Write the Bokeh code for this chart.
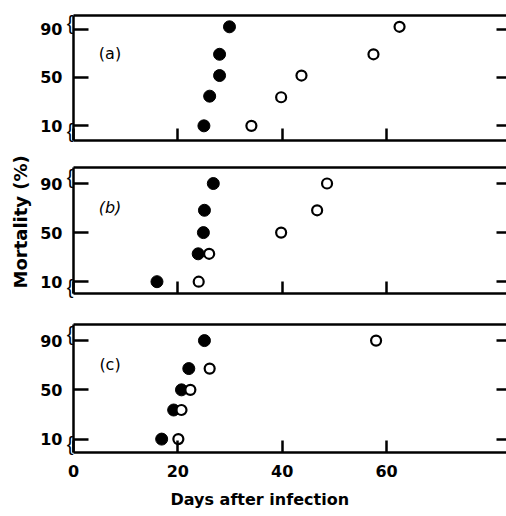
from statistics import NormalDist
from bokeh.plotting import figure
from bokeh.layouts import column
from bokeh.models import Range1d, LinearAxis, FixedTicker, Title
from bokeh.core.properties import value
from bokeh.embed import file_html
from bokeh.resources import INLINE

# ---- data (days after infection, % mortality) ----
a_filled_days = [25.0, 26.1, 28.0, 28.0, 29.9]
a_filled_mort = [10, 31, 52, 73, 91]
a_open_days = [34.1, 39.8, 43.7, 57.5, 62.5]
a_open_mort = [10, 30, 52, 73, 91]

b_filled_days = [16.0, 23.9, 24.9, 25.1, 26.8]
b_filled_mort = [10, 29, 50, 72, 90]
b_open_days = [24.0, 26.0, 39.8, 46.7, 48.6]
b_open_mort = [10, 29, 50, 72, 90]

c_filled_days = [16.9, 19.2, 20.7, 22.1, 25.1]
c_filled_mort = [10, 30, 50, 71, 90]
c_open_days = [20.1, 20.7, 22.4, 26.1, 58.0]
c_open_mort = [10, 30, 50, 71, 90]

panel_labels = ["(a)", "(b)", "(c)"]
panel_label_styles = ["normal", "italic", "normal"]
y_tick_pcts = [10, 50, 90]
x_ticks = [0, 20, 40, 60]
x_label = "Days after infection"
y_label = "Mortality (%)"

nd = NormalDist()


def probit(p):
    return round(nd.inv_cdf(p / 100.0), 4)


BLANK = "."  # tiny, undrawn label for tick-only axes
y_ticks = [probit(v) for v in y_tick_pcts]
y_overrides = {t: str(v) for t, v in zip(y_ticks, y_tick_pcts)}
y_blank = {t: BLANK for t in y_ticks}
x_blank = {t: BLANK for t in x_ticks}
# axis-break marks just above the top tick and below the bottom tick
break_ticks = [round(y_ticks[2] + 0.16, 4), round(y_ticks[0] - 0.14, 4)]
break_marks = {t: "{" for t in break_ticks}

FONT = "DejaVu Sans"


def hide_labels(ax):
    ax.major_label_standoff = 0
    ax.major_label_text_font_size = "1px"
    ax.major_label_text_color = None


def make_panel(height, top, bottom, yr, fd, fm, od, om, lab, lab_style,
               lab_y, xlabels=False):
    p = figure(width=506, height=height, x_range=Range1d(0, 83),
               y_range=Range1d(*yr), output_backend="svg",
               toolbar_location=None, x_axis_location=None,
               y_axis_location=None, min_border_left=73,
               min_border_right=0, min_border_top=top,
               min_border_bottom=bottom)
    p.grid.visible = False
    p.outline_line_color = None
    p.background_fill_color = "white"
    p.border_fill_color = "white"

    # innermost left axis: spine + inward ticks, no labels
    spine = LinearAxis(ticker=FixedTicker(ticks=y_ticks),
                       major_label_overrides=y_blank,
                       major_tick_in=15, major_tick_out=0,
                       major_tick_line_width=2.5, axis_line_width=2.5,
                       minor_tick_line_color=None)
    hide_labels(spine)
    p.add_layout(spine, "left")

    # break marks drawn as labels hugging the spine
    brk = LinearAxis(ticker=FixedTicker(ticks=break_ticks),
                     major_label_overrides=break_marks,
                     axis_line_color=None, major_tick_line_color=None,
                     major_tick_in=0, major_tick_out=0,
                     minor_tick_line_color=None,
                     major_label_standoff=0,
                     major_label_text_font="Liberation Sans",
                     major_label_text_font_size="20px",
                     major_label_text_color="black")
    p.add_layout(brk, "left")

    # tick values
    left = LinearAxis(ticker=FixedTicker(ticks=y_ticks),
                      major_label_overrides=y_overrides,
                      axis_line_color=None, major_tick_line_color=None,
                      major_tick_in=0, major_tick_out=0,
                      minor_tick_line_color=None,
                      major_label_standoff=1,
                      major_label_text_font=FONT,
                      major_label_text_font_style="bold",
                      major_label_text_font_size="16px",
                      major_label_text_color="black")
    p.add_layout(left, "left")

    right = LinearAxis(ticker=FixedTicker(ticks=y_ticks),
                       major_label_overrides=y_blank,
                       major_tick_in=10, major_tick_out=0,
                       major_tick_line_width=2.5, axis_line_color=None,
                       minor_tick_line_color=None)
    hide_labels(right)
    p.add_layout(right, "right")

    above = LinearAxis(ticker=FixedTicker(ticks=[]),
                       major_tick_in=0, major_tick_out=0,
                       axis_line_width=2.5, minor_tick_line_color=None)
    hide_labels(above)
    p.add_layout(above, "above")

    below = LinearAxis(ticker=FixedTicker(ticks=x_ticks),
                       major_tick_in=12, major_tick_out=0,
                       major_tick_line_width=2.5, axis_line_width=2.5,
                       minor_tick_line_color=None)
    if xlabels:
        below.major_label_standoff = 12
        below.major_label_text_font = FONT
        below.major_label_text_font_style = "bold"
        below.major_label_text_font_size = "16px"
        below.major_label_text_color = "black"
    else:
        below.major_label_overrides = x_blank
        hide_labels(below)
    p.add_layout(below, "below")

    p.scatter(fd, [probit(m) for m in fm], size=12,
              fill_color="black", line_color="black")
    p.scatter(od, [probit(m) for m in om], size=10,
              fill_color="white", line_color="black", line_width=2.2)
    p.text(x=[7], y=[lab_y], text=[lab], text_font=value(FONT),
           text_font_style=lab_style, text_font_size="16px",
           text_align="center", text_baseline="middle", text_color="black")
    return p


pa = make_panel(153, 15, 13, (-1.67, 1.64), a_filled_days, a_filled_mort,
                a_open_days, a_open_mort, panel_labels[0],
                panel_label_styles[0], 0.63)
pb = make_panel(154, 14, 14, (-1.59, 1.70), b_filled_days, b_filled_mort,
                b_open_days, b_open_mort, panel_labels[1],
                panel_label_styles[1], 0.65)
pb.add_layout(Title(text=y_label, align="left", offset=5, standoff=14,
                    text_font=FONT, text_font_style="bold",
                    text_font_size="18px", text_color="black"), "left")
pc = make_panel(209, 17, 63, (-1.63, 1.70), c_filled_days, c_filled_mort,
                c_open_days, c_open_mort, panel_labels[2],
                panel_label_styles[2], 0.65, xlabels=True)
pc.add_layout(Title(text=x_label, align="left", offset=97, standoff=16,
                    text_font=FONT, text_font_style="bold",
                    text_font_size="16px", text_color="black"), "below")

layout = column(pa, pb, pc)
open("out.html", "w").write(file_html(layout, INLINE))
